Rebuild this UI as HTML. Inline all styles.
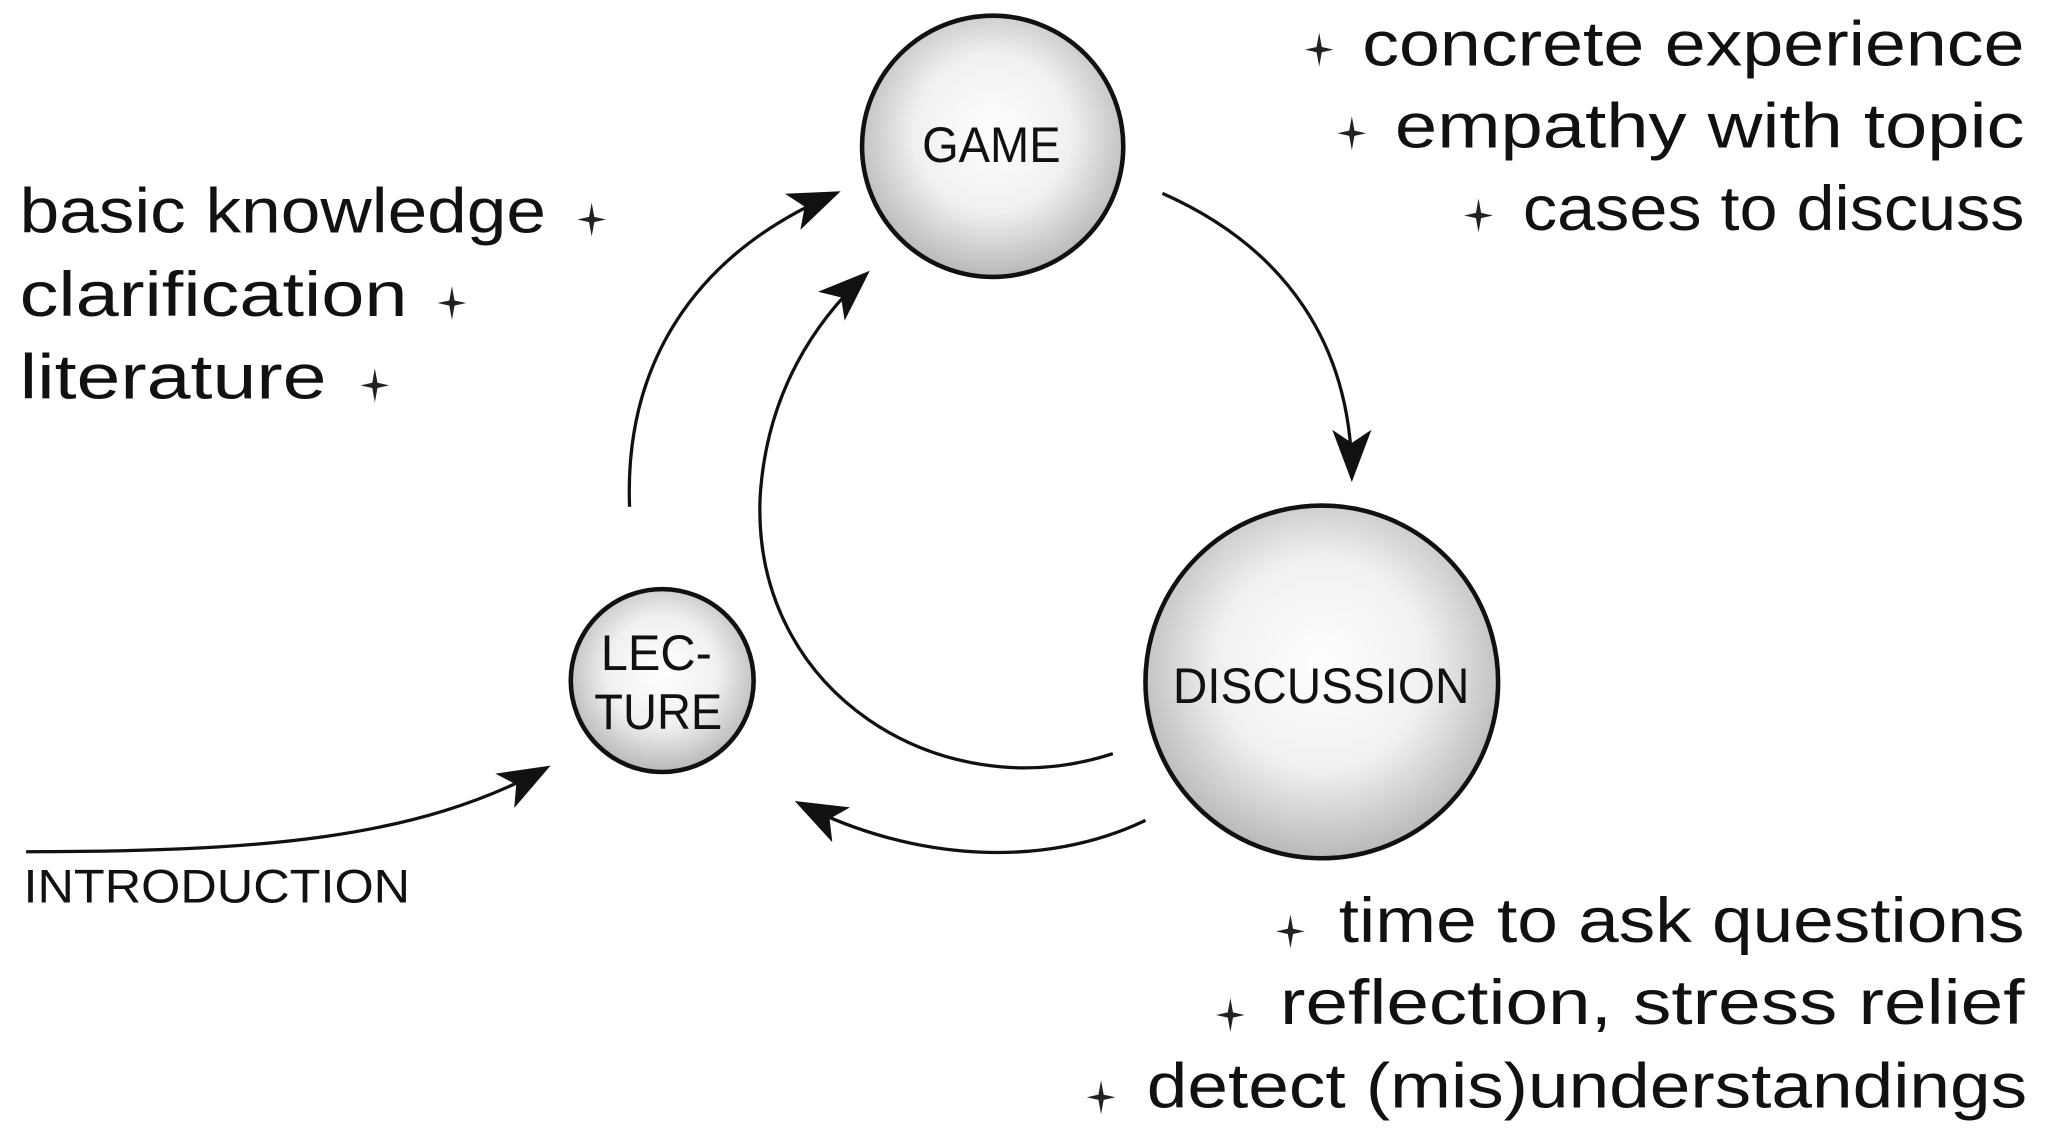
<!DOCTYPE html>
<html><head><meta charset="utf-8"><style>
html,body{margin:0;padding:0;background:#fff;}
svg{display:block;}
text{font-family:"Liberation Sans","DejaVu Sans",sans-serif;fill:#111;}
</style></head><body>
<svg width="2048" height="1143" viewBox="0 0 1568 875" preserveAspectRatio="none" xmlns="http://www.w3.org/2000/svg">
<defs>
<radialGradient id="g" cx="50%" cy="45%" r="55%">
<stop offset="0%" stop-color="#ffffff"/><stop offset="55%" stop-color="#f0f0f0"/><stop offset="100%" stop-color="#b8b8b8"/>
</radialGradient>
<marker id="a" viewBox="0 0 40 30" refX="36" refY="15" markerWidth="40" markerHeight="30" markerUnits="userSpaceOnUse" orient="auto">
<path d="M0,0 L40,15 L0,30 L10,15 Z" fill="#111"/>
</marker>
<path id="star" d="M0,-13 L2,-2 L11,0 L2,2 L0,13 L-2,2 L-11,0 L-2,-2 Z" fill="#222"/>
</defs>

<g fill="none" stroke="#111" stroke-width="2.5">
<path d="M482,388 C478,280 530,195 640,148" marker-end="url(#a)"/>
<path d="M852,577 C720,620 575,530 582,380 C587,300 625,245 663,210" marker-end="url(#a)"/>
<path d="M890,148 C985,190 1035,265 1035,365" marker-end="url(#a)"/>
<path d="M877,628 C800,665 700,660 612,615" marker-end="url(#a)"/>
<path d="M20,652 C200,652 320,642 418,588" marker-end="url(#a)"/>
</g>

<ellipse cx="760" cy="112" rx="100" ry="100" fill="url(#g)" stroke="#111" stroke-width="3.5"/>
<ellipse cx="1012" cy="522" rx="135" ry="135" fill="url(#g)" stroke="#111" stroke-width="3.5"/>
<ellipse cx="507" cy="521" rx="70" ry="70" fill="url(#g)" stroke="#111" stroke-width="3.5"/>

<text x="706" y="124" font-size="38" textLength="106" lengthAdjust="spacingAndGlyphs">GAME</text>
<text x="898" y="538" font-size="38" textLength="227" lengthAdjust="spacingAndGlyphs">DISCUSSION</text>
<text x="460" y="513" font-size="38" textLength="85" lengthAdjust="spacingAndGlyphs">LEC-</text>
<text x="455" y="558" font-size="38" textLength="98" lengthAdjust="spacingAndGlyphs">TURE</text>
<text x="18" y="691" font-size="36" textLength="296" lengthAdjust="spacingAndGlyphs">INTRODUCTION</text>

<g font-size="48">
<text x="1043" y="50" textLength="507" lengthAdjust="spacingAndGlyphs">concrete experience</text>
<text x="1068" y="113" textLength="482" lengthAdjust="spacingAndGlyphs">empathy with topic</text>
<text x="1166" y="176" textLength="384" lengthAdjust="spacingAndGlyphs">cases to discuss</text>
<text x="15" y="178" textLength="403" lengthAdjust="spacingAndGlyphs">basic knowledge</text>
<text x="15" y="242" textLength="297" lengthAdjust="spacingAndGlyphs">clarification</text>
<text x="15" y="305" textLength="235" lengthAdjust="spacingAndGlyphs">literature</text>
<text x="1025" y="721" textLength="525" lengthAdjust="spacingAndGlyphs">time to ask questions</text>
<text x="980" y="784" textLength="570" lengthAdjust="spacingAndGlyphs">reflection, stress relief</text>
<text x="878" y="848" textLength="674" lengthAdjust="spacingAndGlyphs">detect (mis)understandings</text>
</g>

<use href="#star" x="1010" y="38"/>
<use href="#star" x="1035" y="102"/>
<use href="#star" x="1132" y="165"/>
<use href="#star" x="453" y="168"/>
<use href="#star" x="346" y="232"/>
<use href="#star" x="287" y="295"/>
<use href="#star" x="988" y="713"/>
<use href="#star" x="942" y="777"/>
<use href="#star" x="843" y="840"/>
</svg>
</body></html>
